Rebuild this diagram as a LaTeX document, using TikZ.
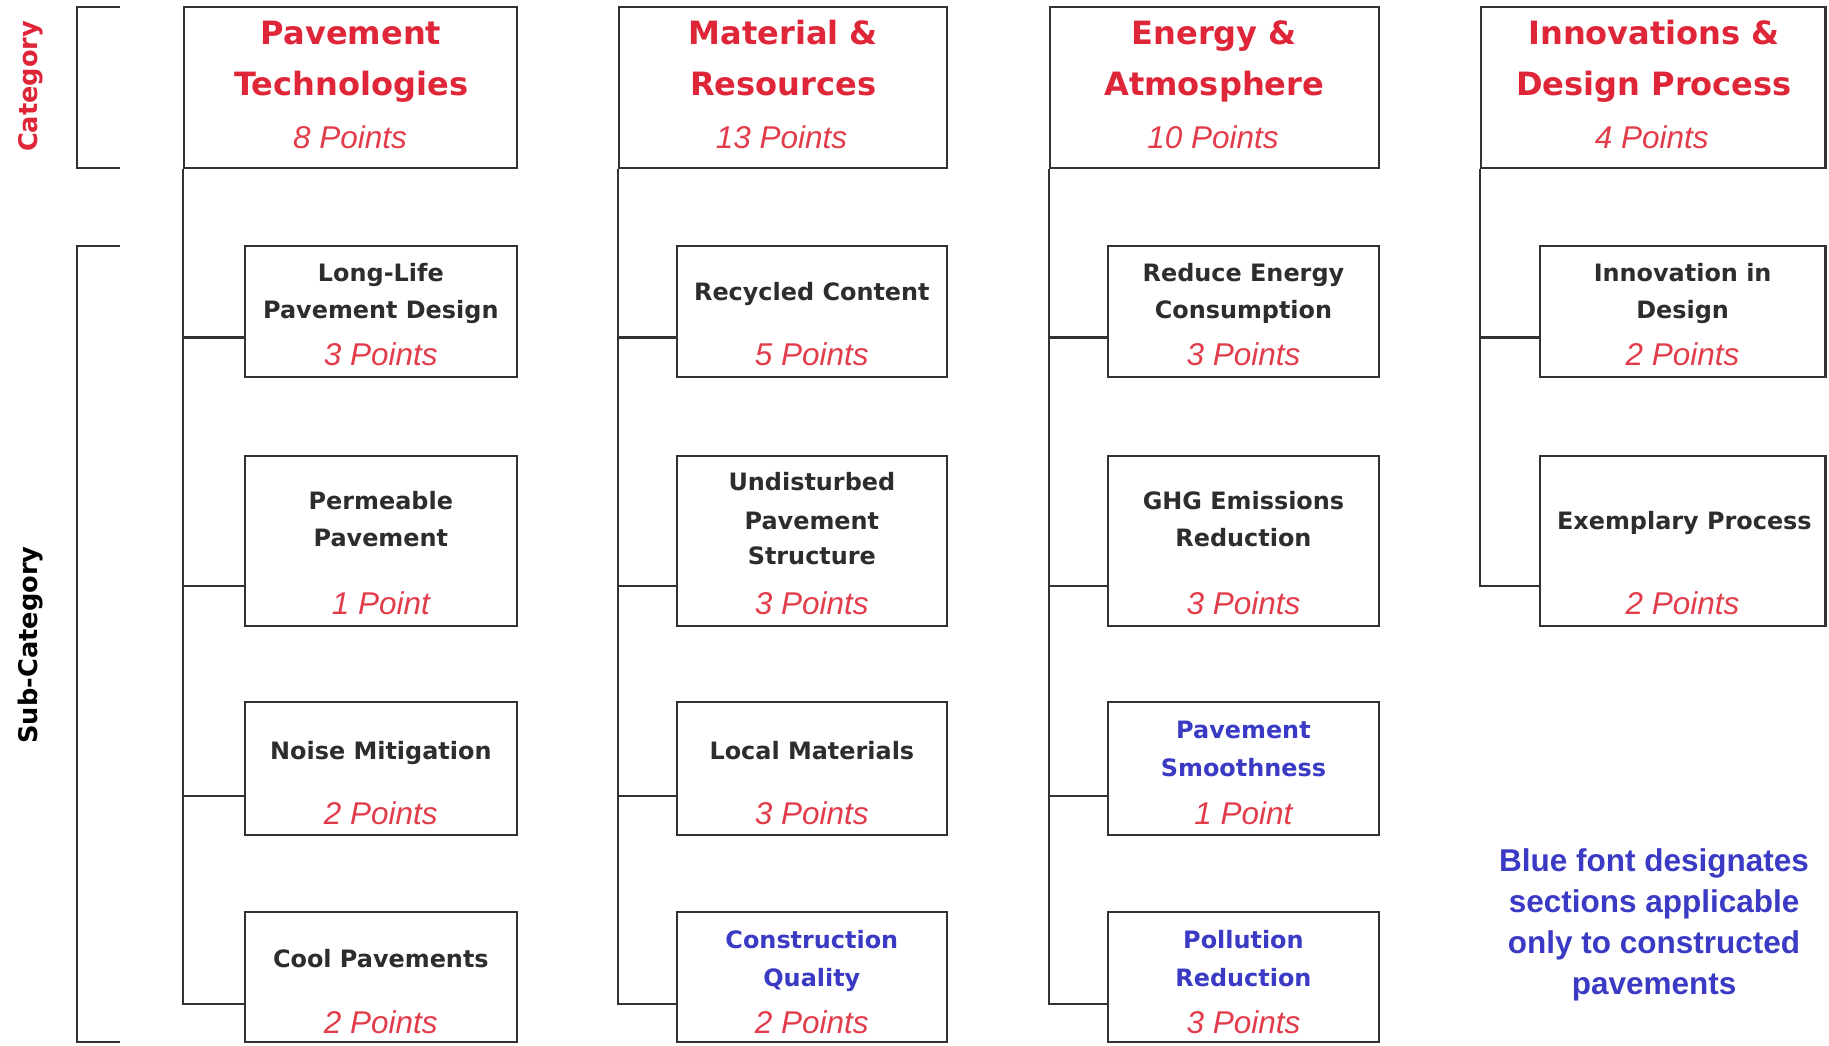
\documentclass[tikz,border=0pt]{standalone}
\usepackage{fontspec}
\setmainfont{DejaVu Sans}
\newfontfamily\ptsfont{Liberation Sans}
\usetikzlibrary{calc}
\definecolor{tred}{RGB}{222,38,56}
\definecolor{pred}{RGB}{226,60,75}
\definecolor{tblue}{RGB}{58,58,196}
\definecolor{tgray}{RGB}{45,45,45}
\definecolor{lcol}{RGB}{50,50,50}
\newcommand{\cattxt}{\fontsize{27.5}{33}\selectfont\bfseries}
\newcommand{\subtxt}{\fontsize{20.5}{25}\selectfont\bfseries}
\newcommand{\ptstxt}{\ptsfont\itshape\fontsize{27}{32}\selectfont}
\newcommand{\notetxt}{\ptsfont\bfseries\fontsize{27}{35}\selectfont}
\begin{document}
\begin{tikzpicture}[x=1pt,y=-1pt,
  bx/.style 2 args={draw=lcol, line width=1.8pt, rectangle, inner sep=0pt, minimum width=#1pt, minimum height=#2pt},
  conn/.style={draw=lcol, line width=1.8pt},
  ct/.style={anchor=mid, inner sep=0pt, text=tred, font=\cattxt, yshift=-7pt},
  st/.style={anchor=mid, inner sep=0pt, text=tgray, font=\subtxt, yshift=-5pt},
  sb/.style={anchor=mid, inner sep=0pt, text=tblue, font=\subtxt, yshift=-5pt},
  pt/.style={anchor=mid, inner sep=0pt, text=pred, font=\ptstxt, yshift=-7pt}]
\useasboundingbox[fill=white] (0,0) rectangle (1568,896);

% left brackets
\draw[conn] (103,6) -- (66,6) -- (66,144) -- (103,144);
\draw[conn] (103,211) -- (66,211) -- (66,893) -- (103,893);
\node[anchor=mid, rotate=90, inner sep=0pt, text=tred, font=\fontsize{22}{26}\selectfont\bfseries] (lcat) at (29,74) {Category};
\node[anchor=mid, rotate=90, inner sep=0pt, text=black, font=\fontsize{22}{26}\selectfont\bfseries] (lsub) at (29,553) {Sub-Category};

% category boxes
\node[bx={285}{138}] (c1) at (300.5,75) {};
\node[bx={281}{138}] (c2) at (671.5,75) {};
\node[bx={282}{138}] (c3) at (1041,75) {};
\node[bx={295}{138}] (c4) at (1417.5,75) {};

\node[ct] (c1a) at (301,28) {Pavement};
\node[ct] (c1b) at (301,72) {Technologies};
\node[pt] (c1p) at (300,118) {8 Points};
\node[ct] (c2a) at (671.5,28) {Material \&};
\node[ct] (c2b) at (671.5,72) {Resources};
\node[pt] (c2p) at (670,118) {13 Points};
\node[ct] (c3a) at (1041,28) {Energy \&};
\node[ct] (c3b) at (1041,72) {Atmosphere};
\node[pt] (c3p) at (1040,118) {10 Points};
\node[ct] (c4a) at (1418,28) {Innovations \&};
\node[ct] (c4b) at (1418,72) {Design Process};
\node[pt] (c4p) at (1416,118) {4 Points};

% column 1
\node[bx={233}{112}] (s11) at (326.5,267) {};
\node[bx={233}{146}] (s12) at (326.5,464) {};
\node[bx={233}{114}] (s13) at (326.5,659) {};
\node[bx={233}{111}] (s14) at (326.5,837.5) {};
\node[st] (t11a) at (326.5,234) {Long-Life};
\node[st] (t11b) at (326.5,265) {Pavement Design};
\node[pt] (p11) at (326.5,304) {3 Points};
\node[st] (t12a) at (326.5,429) {Permeable};
\node[st] (t12b) at (326.5,461) {Pavement};
\node[pt] (p12) at (326.5,517) {1 Point};
\node[st] (t13a) at (326.5,643) {Noise Mitigation};
\node[pt] (p13) at (326.5,697) {2 Points};
\node[st] (t14a) at (326.5,822) {Cool Pavements};
\node[pt] (p14) at (326.5,876) {2 Points};

% column 2
\node[bx={232}{112}] (s21) at (696,267) {};
\node[bx={232}{146}] (s22) at (696,464) {};
\node[bx={232}{114}] (s23) at (696,659) {};
\node[bx={232}{111}] (s24) at (696,837.5) {};
\node[st] (t21a) at (696,250) {Recycled Content};
\node[pt] (p21) at (696,304) {5 Points};
\node[st] (t22a) at (696,413) {Undisturbed};
\node[st] (t22b) at (696,446) {Pavement};
\node[st] (t22c) at (696,476) {Structure};
\node[pt] (p22) at (696,517) {3 Points};
\node[st] (t23a) at (696,643) {Local Materials};
\node[pt] (p23) at (696,697) {3 Points};
\node[sb] (t24a) at (696,805) {Construction};
\node[sb] (t24b) at (696,838) {Quality};
\node[pt] (p24) at (696,876) {2 Points};

% column 3
\node[bx={232}{112}] (s31) at (1066,267) {};
\node[bx={232}{146}] (s32) at (1066,464) {};
\node[bx={232}{114}] (s33) at (1066,659) {};
\node[bx={232}{111}] (s34) at (1066,837.5) {};
\node[st] (t31a) at (1066,234) {Reduce Energy};
\node[st] (t31b) at (1066,265) {Consumption};
\node[pt] (p31) at (1066,304) {3 Points};
\node[st] (t32a) at (1066,429) {GHG Emissions};
\node[st] (t32b) at (1066,461) {Reduction};
\node[pt] (p32) at (1066,517) {3 Points};
\node[sb] (t33a) at (1066,625) {Pavement};
\node[sb] (t33b) at (1066,658) {Smoothness};
\node[pt] (p33) at (1066,697) {1 Point};
\node[sb] (t34a) at (1066,805) {Pollution};
\node[sb] (t34b) at (1066,838) {Reduction};
\node[pt] (p34) at (1066,876) {3 Points};

% column 4
\node[bx={245}{112}] (s41) at (1442.5,267) {};
\node[bx={245}{146}] (s42) at (1442.5,464) {};
\node[st] (t41a) at (1442.5,234) {Innovation in};
\node[st] (t41b) at (1442.5,265) {Design};
\node[pt] (p41) at (1442.5,304) {2 Points};
\node[st] (t42a) at (1444,446) {Exemplary Process};
\node[pt] (p42) at (1442.5,517) {2 Points};

% note
\node[anchor=center, align=center, inner sep=0pt, text=tblue, font=\notetxt] (note) at (1418,793) {Blue font designates\\sections applicable\\only to constructed\\pavements};

% connectors
\foreach \c in {1,2,3} {
  \draw[conn] (c\c.south west) |- ($(s\c1.south west)!0.304!(s\c1.north west)$);
  \draw[conn] (c\c.south west) |- ($(s\c2.south west)!0.24!(s\c2.north west)$);
  \draw[conn] (c\c.south west) |- ($(s\c3.south west)!0.298!(s\c3.north west)$);
  \draw[conn] (c\c.south west) |- ($(s\c4.south west)!0.297!(s\c4.north west)$);
}
\draw[conn] (c4.south west) |- ($(s41.south west)!0.304!(s41.north west)$);
\draw[conn] (c4.south west) |- ($(s42.south west)!0.24!(s42.north west)$);
\end{tikzpicture}
\end{document}
